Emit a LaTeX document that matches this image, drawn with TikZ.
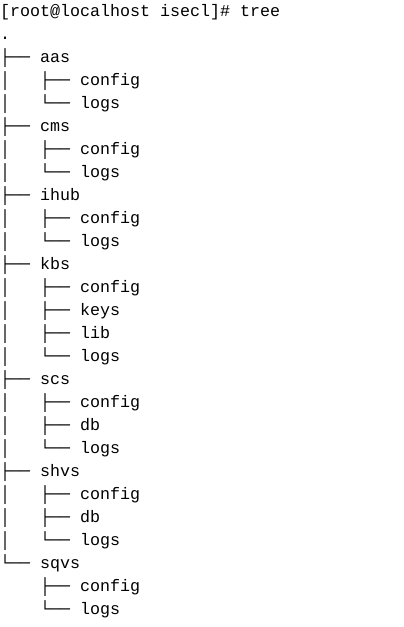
\documentclass[tikz,border=0pt]{standalone}
\usepackage{fontspec}
\setmonofont{Liberation Mono}
\begin{document}
\begin{tikzpicture}[x=1pt,y=1pt,
  line/.style={anchor=base west, inner sep=0pt, outer sep=0pt,
    font=\ttfamily\fontsize{16.67}{23}\selectfont, text=black}]
\useasboundingbox[fill=white] (0,0) rectangle (404,-627);
\frenchspacing
\node[line] (r0)  at (0,-16)  {[root@localhost~isecl]\#~tree};
\node[line] (r1)  at (0,-39)  {.};
\node[line] (r2)  at (0,-62)  {├──~aas};
\node[line] (r3)  at (0,-85)  {│~~~├──~config};
\node[line] (r4)  at (0,-108) {│~~~└──~logs};
\node[line] (r5)  at (0,-131) {├──~cms};
\node[line] (r6)  at (0,-154) {│~~~├──~config};
\node[line] (r7)  at (0,-177) {│~~~└──~logs};
\node[line] (r8)  at (0,-200) {├──~ihub};
\node[line] (r9)  at (0,-223) {│~~~├──~config};
\node[line] (r10) at (0,-246) {│~~~└──~logs};
\node[line] (r11) at (0,-269) {├──~kbs};
\node[line] (r12) at (0,-292) {│~~~├──~config};
\node[line] (r13) at (0,-315) {│~~~├──~keys};
\node[line] (r14) at (0,-338) {│~~~├──~lib};
\node[line] (r15) at (0,-361) {│~~~└──~logs};
\node[line] (r16) at (0,-384) {├──~scs};
\node[line] (r17) at (0,-407) {│~~~├──~config};
\node[line] (r18) at (0,-430) {│~~~├──~db};
\node[line] (r19) at (0,-453) {│~~~└──~logs};
\node[line] (r20) at (0,-476) {├──~shvs};
\node[line] (r21) at (0,-499) {│~~~├──~config};
\node[line] (r22) at (0,-522) {│~~~├──~db};
\node[line] (r23) at (0,-545) {│~~~└──~logs};
\node[line] (r24) at (0,-568) {└──~sqvs};
\node[line] (r25) at (0,-591) {~~~~├──~config};
\node[line] (r26) at (0,-614) {~~~~└──~logs};
\end{tikzpicture}
\end{document}
